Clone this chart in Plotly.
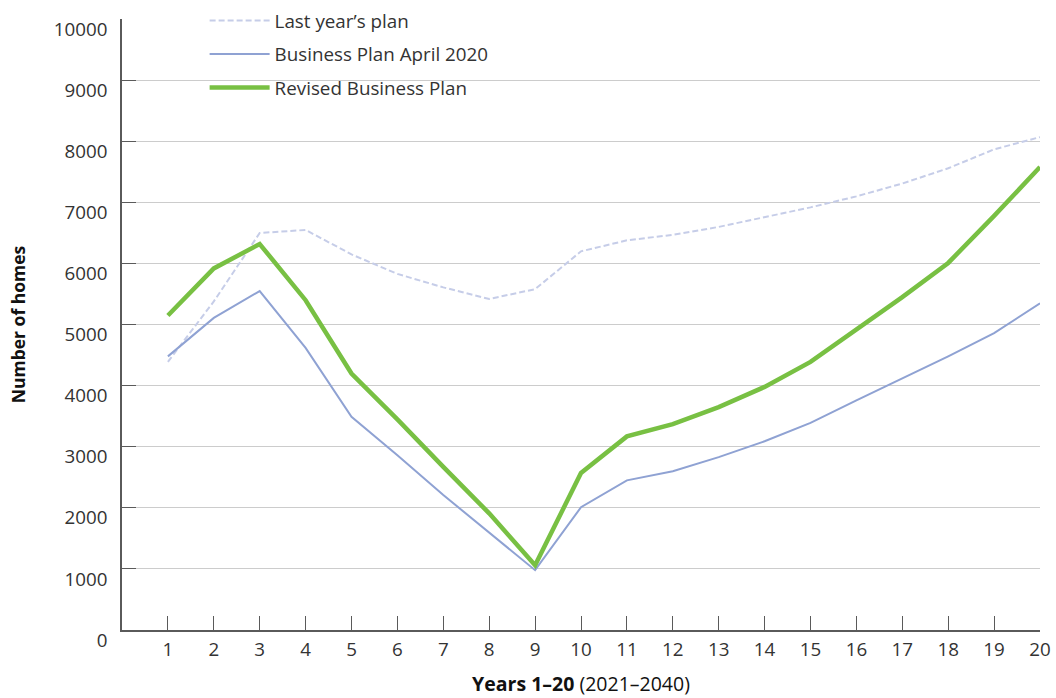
import plotly.graph_objects as go

# Years on the horizontal axis
years = list(range(1, 21))

# Number of homes per year for each plan
last_years_plan = [4390, 5380, 6500, 6550, 6150, 5830, 5610, 5420, 5580, 6200,
                   6380, 6470, 6600, 6760, 6920, 7100, 7310, 7560, 7870, 8070]
business_plan_apr2020 = [4480, 5110, 5550, 4620, 3490, 2860, 2210, 1590, 980, 2010,
                         2450, 2600, 2830, 3090, 3390, 3760, 4120, 4480, 4860, 5350]
revised_business_plan = [5150, 5920, 6320, 5400, 4200, 3450, 2670, 1910, 1060, 2570,
                         3170, 3370, 3650, 3980, 4390, 4910, 5450, 6010, 6780, 7580]

y_ticks = list(range(0, 10001, 1000))
y_tick_text = [str(v) for v in y_ticks]
x_ticks = list(range(0, 21))
x_tick_text = [""] + [str(v) for v in years]

FONT = "Open Sans"
TEXT = "#333333"
AXIS = "#5a5a5a"
FS = 18.8

fig = go.Figure()
fig.add_trace(go.Scatter(
    x=years, y=last_years_plan, name="Last year’s plan", mode="lines",
    line=dict(color="#c6cde8", width=2, dash="6px,3px"), legendgroup="a"))
fig.add_trace(go.Scatter(
    x=years, y=business_plan_apr2020, name="Business Plan April 2020", mode="lines",
    line=dict(color="#8fa2d3", width=2), legendgroup="b"))
fig.add_trace(go.Scatter(
    x=years, y=revised_business_plan, name="Revised Business Plan", mode="lines",
    line=dict(color="#78c043", width=4.5), legendgroup="c"))

# White panel behind the legend, over the gridlines but under the lines
fig.add_shape(type="rect", xref="paper", yref="paper", layer="between",
              x0=50 / 918, x1=397 / 918, y0=1 - 90 / 611, y1=1.03,
              fillcolor="white", line=dict(width=0))

fig.update_layout(
    width=1056, height=698,
    margin=dict(l=122, r=16, t=19, b=68, autoexpand=False),
    paper_bgcolor="white", plot_bgcolor="white",
    font=dict(family=FONT, size=FS, color=TEXT),
    showlegend=True,
    legend=dict(
        x=0.09, xanchor="left", y=1.028, yanchor="top",
        bgcolor="rgba(0,0,0,0)", borderwidth=0,
        font=dict(family=FONT, size=FS, color=TEXT),
        tracegroupgap=6, itemwidth=60,
        traceorder="grouped",
    ),
    xaxis=dict(
        range=[0, 20], tickmode="array", tickvals=x_ticks, ticktext=x_tick_text,
        ticks="inside", ticklen=14, tickwidth=1.2, tickcolor=AXIS,
        showline=True, linecolor=AXIS, linewidth=1.5,
        showgrid=False, zeroline=False, automargin=False,
        tickfont=dict(family=FONT, size=FS, color=TEXT),
        ticklabelstandoff=2,
        title=dict(text="<b>Years 1–20</b> (2021–2040)", standoff=16,
                   font=dict(family=FONT, size=19.5, color="#111111")),
    ),
    yaxis=dict(
        range=[0, 10004], tickmode="array", tickvals=y_ticks, ticktext=y_tick_text,
        ticks="inside", ticklen=14, tickwidth=1.2, tickcolor=AXIS,
        showline=True, linecolor=AXIS, linewidth=1.5,
        showgrid=True, gridcolor="#cccccc", gridwidth=1,
        zeroline=False, automargin=False,
        tickfont=dict(family=FONT, size=FS, color=TEXT),
        ticklabelshift=10, ticklabelstandoff=9,
        title=dict(text="<b>Number of homes</b>", standoff=24,
                   font=dict(family=FONT, size=17.5, color="#111111")),
    ),
)

fig.write_html("out.html")
